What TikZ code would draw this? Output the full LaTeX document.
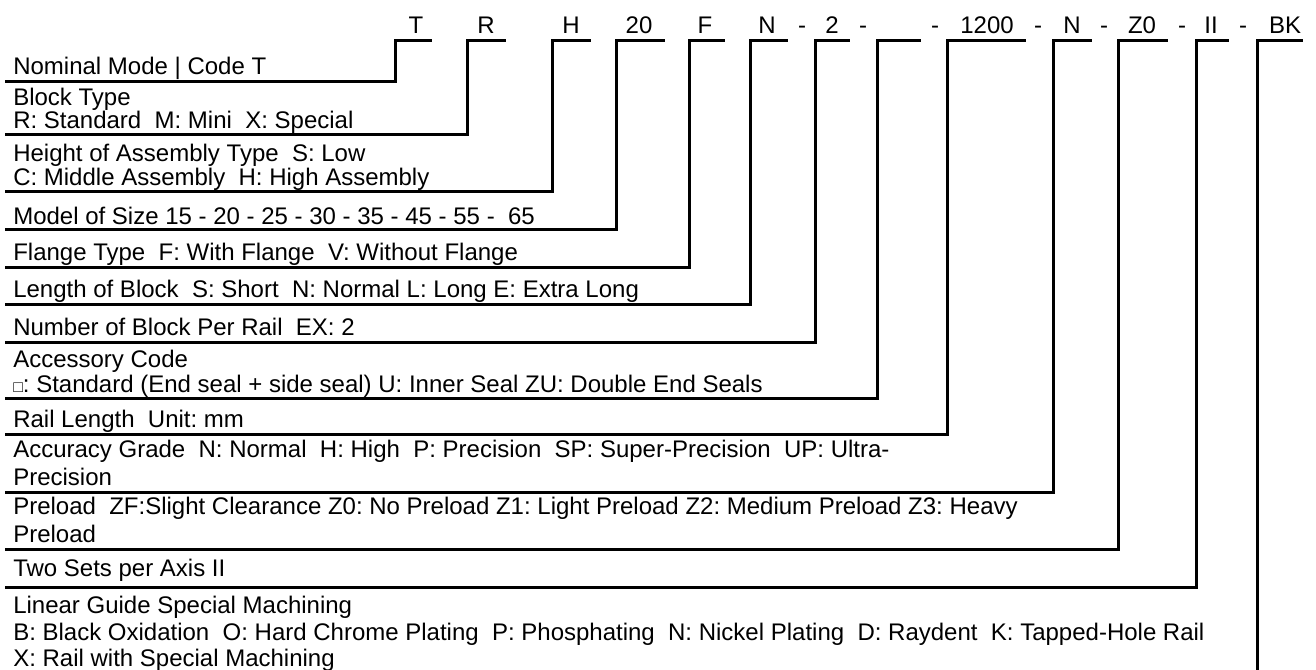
\documentclass[tikz,border=0pt]{standalone}
\usepackage{fontspec}
\setmainfont{Liberation Sans}
\frenchspacing
\begin{document}
\begin{tikzpicture}[x=0.75pt,y=-0.75pt,
  txt/.style={font=\fontsize{18}{20}\selectfont, inner sep=0pt, anchor=base west},
  code/.style={font=\fontsize{18}{20}\selectfont, inner sep=0pt, anchor=base},
  lead/.style={line width=2.25pt, line join=miter}]
\useasboundingbox (0,0) rectangle (1316,670);

% ---- code letters (top row)
\node[code] (cT)   at (416,34) {T};
\node[code] (cR)   at (486,34) {R};
\node[code] (cH)   at (571,34) {H};
\node[code] (c20)  at (639,34) {20};
\node[code] (cF)   at (705,34) {F};
\node[code] (cN)   at (767,34) {N};
\node[code] (s1)   at (802,34) {-};
\node[code] (c2)   at (832,34) {2};
\node[code] (s2)   at (863,34) {-};
\node[code] (s3)   at (935,34) {-};
\node[code] (c1200) at (987,34) {1200};
\node[code] (s4)   at (1038,34) {-};
\node[code] (cN2)  at (1072,34) {N};
\node[code] (s5)   at (1104,34) {-};
\node[code] (cZ0)  at (1142,34) {Z0};
\node[code] (s6)   at (1182,34) {-};
\node[code] (cII)  at (1211,34) {II};
\node[code] (s7)   at (1243,34) {-};
\node[code] (cBK)  at (1285,34) {BK};

% ---- descriptions
\node[txt] (d1)  at (13,75)  {Nominal Mode | Code T};
\node[txt] (d2a) at (13,106) {Block Type};
\node[txt] (d2b) at (13,129) {R: Standard\ \ M: Mini\ \ X: Special};
\node[txt] (d3a) at (13,162) {Height of Assembly Type\ \ S: Low};
\node[txt] (d3b) at (13,186) {C: Middle Assembly\ \ H: High Assembly};
\node[txt] (d4)  at (13,224) {Model of Size 15 - 20 - 25 - 30 - 35 - 45 - 55 -\ \ 65};
\node[txt] (d5)  at (13,260) {Flange Type\ \ F: With Flange\ \ V: Without Flange};
\node[txt] (d6)  at (13,297) {Length of Block\ \ S: Short\ \ N: Normal L: Long E: Extra Long};
\node[txt] (d7)  at (13,335) {Number of Block Per Rail\ \ EX: 2};
\node[txt] (d8a) at (13,367) {Accessory Code};
\node[txt] (d8b) at (13,392) {{\fontsize{12}{14}\selectfont\char"25A1}: Standard (End seal + side seal) U: Inner Seal ZU: Double End Seals};
\node[txt] (d9)  at (13,427) {Rail Length\ \ Unit: mm};
\node[txt] (d10a) at (13,457) {Accuracy Grade\ \ N: Normal\ \ H: High\ \ P: Precision\ \ SP: Super-Precision\ \ UP: Ultra-};
\node[txt] (d10b) at (13,485) {Precision};
\node[txt] (d11a) at (13,514) {Preload\ \ ZF:Slight Clearance Z0: No Preload Z1: Light Preload Z2: Medium Preload Z3: Heavy};
\node[txt] (d11b) at (13,542) {Preload};
\node[txt] (d12) at (13,576) {Two Sets per Axis II};
\node[txt] (d13a) at (13,613) {Linear Guide Special Machining};
\node[txt] (d13b) at (13,640) {B: Black Oxidation\ \ O: Hard Chrome Plating\ \ P: Phosphating\ \ N: Nickel Plating\ \ D: Raydent\ \ K: Tapped-Hole Rail};
\node[txt] (d13c) at (13,666) {X: Rail with Special Machining};

% ---- leader end points
\coordinate (l1)  at (5,82);   \coordinate (tT)   at (395,41);  \coordinate (eT)   at (432,41);
\coordinate (l2)  at (5,135);  \coordinate (tR)   at (467,41);  \coordinate (eR)   at (506,41);
\coordinate (l3)  at (5,192);  \coordinate (tH)   at (552,41);  \coordinate (eH)   at (591,41);
\coordinate (l4)  at (5,230);  \coordinate (t20)  at (616,41);  \coordinate (e20)  at (665,41);
\coordinate (l5)  at (5,267);  \coordinate (tF)   at (689,41);  \coordinate (eF)   at (725,41);
\coordinate (l6)  at (5,304);  \coordinate (tN)   at (750,41);  \coordinate (eN)   at (788,41);
\coordinate (l7)  at (5,342);  \coordinate (t2)   at (815,41);  \coordinate (e2)   at (850,41);
\coordinate (l8)  at (5,398);  \coordinate (tB)   at (877,41);  \coordinate (eB)   at (921,41);
\coordinate (l9)  at (5,434);  \coordinate (t1200) at (947,41); \coordinate (e1200) at (1026,41);
\coordinate (l10) at (5,492);  \coordinate (tN2)  at (1053,41); \coordinate (eN2)  at (1092,41);
\coordinate (l11) at (5,549);  \coordinate (tZ0)  at (1118,41); \coordinate (eZ0)  at (1168,41);
\coordinate (l12) at (5,587);  \coordinate (tII)  at (1196,41); \coordinate (eII)  at (1229,41);
\coordinate (l13) at (1257,672); \coordinate (tBK) at (1257,41); \coordinate (eBK)  at (1303,41);

% ---- leaders
\draw[lead] (l1)  -| (tT)   -- (eT);
\draw[lead] (l2)  -| (tR)   -- (eR);
\draw[lead] (l3)  -| (tH)   -- (eH);
\draw[lead] (l4)  -| (t20)  -- (e20);
\draw[lead] (l5)  -| (tF)   -- (eF);
\draw[lead] (l6)  -| (tN)   -- (eN);
\draw[lead] (l7)  -| (t2)   -- (e2);
\draw[lead] (l8)  -| (tB)   -- (eB);
\draw[lead] (l9)  -| (t1200) -- (e1200);
\draw[lead] (l10) -| (tN2)  -- (eN2);
\draw[lead] (l11) -| (tZ0)  -- (eZ0);
\draw[lead] (l12) -| (tII)  -- (eII);
\draw[lead] (l13) -- (tBK)  -- (eBK);
\end{tikzpicture}
\end{document}
